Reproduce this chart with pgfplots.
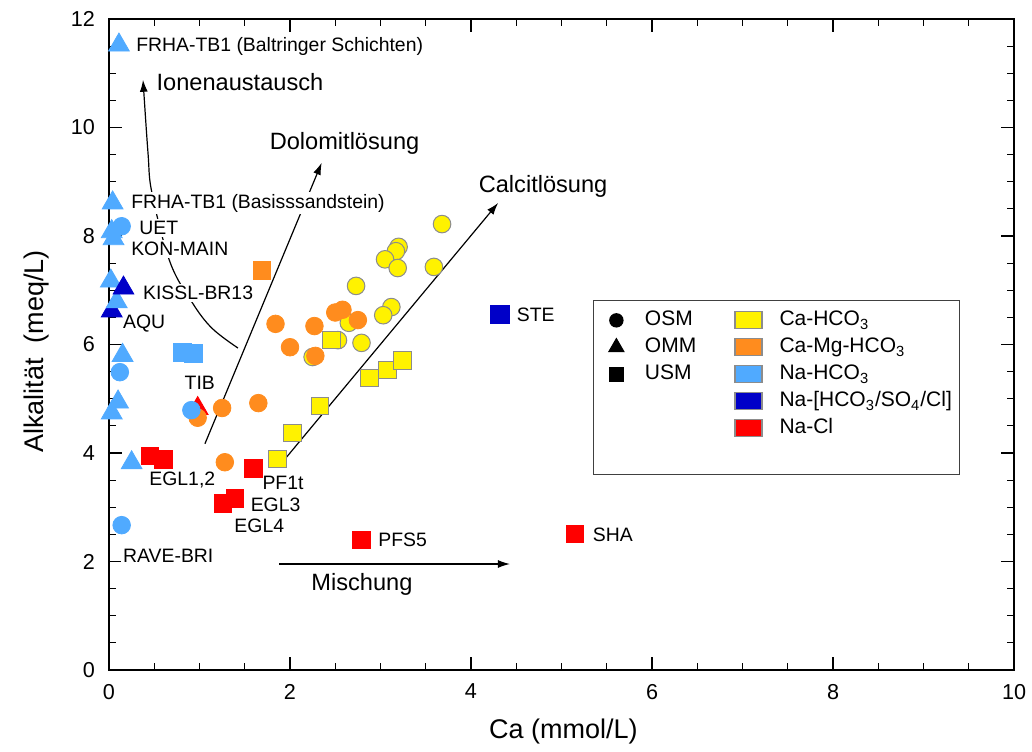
\documentclass[border=0pt]{standalone}
\usepackage{fontspec}
\setmainfont{Liberation Sans}
\usepackage{pgfplots}
\pgfplotsset{compat=1.18}
\usetikzlibrary{arrows.meta,calc}

\definecolor{cyel}{RGB}{255,242,0}
\definecolor{corg}{RGB}{255,140,30}
\definecolor{clbl}{RGB}{80,170,255}
\definecolor{cdbl}{RGB}{0,0,200}
\definecolor{cred}{RGB}{255,0,0}
\definecolor{cedge}{RGB}{140,140,140}

\pgfplotsset{
 patchleg/.style={legend image code/.code={\draw[##1] (0pt,-4.25pt) rectangle (13.5pt,4.25pt);}},
 markleg/.style={legend image code/.code={\path (0pt,0pt) (12.5pt,0pt); \draw[##1, only marks] plot coordinates {(7pt,0pt)};}},
}

\begin{document}
\begin{tikzpicture}
\begin{axis}[
 name=ax,
 scale only axis, width=452.5pt, height=325.5pt,
 xmin=0, xmax=10, ymin=0, ymax=12,
 xtick={0,2,...,10}, ytick={0,2,...,12},
 minor x tick num=3, minor y tick num=3,
 tick align=inside, tick pos=both,
 xticklabel pos=lower, yticklabel pos=left,
 major tick length=6.5pt, minor tick length=3.5pt,
 tick style={black, line width=0.6pt},
 axis line style={line width=0.8pt},
 ticklabel style={font=\fontsize{10.8}{12}\selectfont},
 xticklabel style={yshift=-3.5pt},
 yticklabel style={xshift=-3.5pt},
 /pgf/number format/assume math mode=true,
 xlabel={Ca (mmol/L)}, ylabel={Alkalität\ \ (meq/L)},
 label style={font=\fontsize{13.5}{16}\selectfont},
 xlabel style={at={(axis description cs:0.502,-0.095)}, anchor=center},
 ylabel style={at={(axis description cs:-0.0796,0.489)}, anchor=center},
 legend columns=2,
 legend cell align=left,
 legend style={at={(rel axis cs:0.535,0.568)}, anchor=north west,
   draw=black!75, line width=0.6pt, fill=white,
   font=\fontsize{10.5}{12}\selectfont,
   inner xsep=4pt, inner ysep=3pt, row sep=0pt,
   nodes={text height=7.5pt, text depth=2pt, inner ysep=2pt, inner xsep=0pt},
   /tikz/every odd column/.append style={column sep=8.5pt},
   /tikz/every even column/.append style={column sep=19pt}},
]
% Na-Cl triangle OMM (TIB), partly hidden
\addplot[forget plot, only marks, mark=triangle*, mark size=6pt, mark options={fill=cred, draw=cred}] coordinates {
(0.98,4.82)};
% Ca-HCO3 (yellow) circles OSM
\addplot[forget plot, only marks, mark=*, mark size=4.4pt, mark options={fill=cyel, draw=cedge, line width=0.5pt}] coordinates {
(3.68,8.22) (3.20,7.80) (3.17,7.72) (3.05,7.57) (3.19,7.41) (3.59,7.43) (2.73,7.08)
(3.12,6.69) (3.03,6.54) (2.65,6.40) (2.53,6.08) (2.79,6.03) (2.25,5.77)};
% Ca-HCO3 squares USM
\addplot[forget plot, only marks, mark=square*, mark size=4.4pt, mark options={fill=cyel, draw=cedge, line width=0.5pt}] coordinates {
(2.46,6.08) (2.88,5.38) (3.08,5.53) (3.24,5.70) (2.33,4.87) (2.03,4.37) (1.86,3.89)};
% Ca-Mg-HCO3 circles OSM
\addplot[forget plot, only marks, mark=*, mark size=4.4pt, mark options={fill=corg, draw=corg}] coordinates {
(1.84,6.38) (2.00,5.95) (2.27,6.34) (2.28,5.79) (2.50,6.59) (2.58,6.64) (2.75,6.45)
(1.25,4.83) (1.65,4.92) (1.28,3.83) (0.98,4.65)};
% Ca-Mg-HCO3 square USM
\addplot[forget plot, only marks, mark=square*, mark size=4.4pt, mark options={fill=corg, draw=corg}] coordinates {
(1.69,7.37)};
% Na-mix triangle OMM (AQU)
\addplot[forget plot, only marks, mark=triangle*, mark size=6pt, mark options={fill=cdbl, draw=cdbl}] coordinates {
(0.03,6.62)};
% Na-HCO3 triangles OMM
\addplot[forget plot, only marks, mark=triangle*, mark size=6pt, mark options={fill=clbl, draw=clbl}] coordinates {
(0.11,11.52) (0.04,8.61) (0.03,8.08) (0.05,7.95) (0.02,7.17) (0.085,6.79)
(0.15,5.80) (0.10,4.94) (0.03,4.74) (0.25,3.82)};
% Na-mix triangle OMM (KISSL)
\addplot[forget plot, only marks, mark=triangle*, mark size=6pt, mark options={fill=cdbl, draw=cdbl}] coordinates {
(0.16,7.04)};
% Na-HCO3 circles OSM
\addplot[forget plot, only marks, mark=*, mark size=4.4pt, mark options={fill=clbl, draw=clbl}] coordinates {
(0.14,8.18) (0.12,5.49) (0.91,4.79) (0.14,2.67)};
% Na-HCO3 squares USM
\addplot[forget plot, only marks, mark=square*, mark size=4.4pt, mark options={fill=clbl, draw=clbl}] coordinates {
(0.81,5.86) (0.93,5.84)};
% Na-mix square USM (STE)
\addplot[forget plot, only marks, mark=square*, mark size=4.6pt, mark options={fill=cdbl, draw=cdbl}] coordinates {
(4.32,6.55)};
% Na-Cl squares USM
\addplot[forget plot, only marks, mark=square*, mark size=4.4pt, mark options={fill=cred, draw=cred}] coordinates {
(0.45,3.95) (0.60,3.88) (1.595,3.72) (1.39,3.16) (1.26,3.07) (2.79,2.40) (5.15,2.51)};

% arrows
\draw[line width=0.6pt, -{Latex[length=6pt,width=4pt]}] plot[smooth, tension=0.6] coordinates {
 (axis cs:1.425,5.935) (axis cs:1.138,6.30) (axis cs:0.917,6.78) (axis cs:0.674,7.52)
 (axis cs:0.475,8.79) (axis cs:0.431,9.53) (axis cs:0.376,10.88)};
\draw[line width=0.6pt, -{Latex[length=6pt,width=4pt]}] (axis cs:1.06,4.17) -- (axis cs:2.35,9.35);
\draw[line width=0.6pt, -{Latex[length=6pt,width=4pt]}] (axis cs:1.945,3.89) -- (axis cs:4.30,8.61);
\draw[line width=0.6pt, -{Latex[length=6pt,width=4pt]}] (axis cs:1.88,1.954) -- (axis cs:4.43,1.954);

% process labels
\tikzset{big/.style={font=\fontsize{11.8}{14}\selectfont, anchor=west, inner sep=1pt},
         lbl/.style={font=\fontsize{9.7}{11}\selectfont, anchor=west, inner sep=1pt, fill=white}}
\node[big] at (axis cs:0.50,10.84) {Ionenaustausch};
\node[big] at (axis cs:1.75,9.71) {Dolomitlösung};
\node[big] at (axis cs:4.06,8.92) {Calcitlösung};
\node[big] at (axis cs:2.21,1.57) {Mischung};

% site labels
\node[lbl] at (axis cs:0.275,11.5) {FRHA-TB1 (Baltringer Schichten)};
\node[lbl] at (axis cs:0.22,8.6) {FRHA-TB1 (Basisssandstein)};
\node[lbl] at (axis cs:0.31,8.15) {UET};
\node[lbl] at (axis cs:0.22,7.76) {KON-MAIN};
\node[lbl] at (axis cs:0.35,6.95) {KISSL-BR13};
\node[lbl] at (axis cs:0.13,6.38) {AQU};
\node[lbl] at (axis cs:0.81,5.29) {TIB};
\node[lbl] at (axis cs:0.42,3.50) {EGL1,2};
\node[lbl] at (axis cs:1.67,3.45) {PF1t};
\node[lbl] at (axis cs:1.54,3.04) {EGL3};
\node[lbl] at (axis cs:1.36,2.65) {EGL4};
\node[lbl] at (axis cs:0.13,2.10) {RAVE-BRI};
\node[lbl] at (axis cs:2.95,2.40) {PFS5};
\node[lbl] at (axis cs:5.32,2.49) {SHA};
\node[lbl] at (axis cs:4.48,6.54) {STE};

% legend
\addlegendimage{mark=*, black, mark size=3.3pt, markleg}
\addlegendentry{OSM}
\addlegendimage{patchleg, fill=cyel, draw=cedge}
\addlegendentry{Ca-HCO\textsubscript{3}}
\addlegendimage{mark=triangle*, black, mark size=4.3pt, markleg}
\addlegendentry{OMM}
\addlegendimage{patchleg, fill=corg, draw=cedge}
\addlegendentry{Ca-Mg-HCO\textsubscript{3}}
\addlegendimage{mark=square*, black, mark size=3.3pt, markleg}
\addlegendentry{USM}
\addlegendimage{patchleg, fill=clbl, draw=cedge}
\addlegendentry{Na-HCO\textsubscript{3}}
\addlegendimage{empty legend}
\addlegendentry{}
\addlegendimage{patchleg, fill=cdbl, draw=cedge}
\addlegendentry{Na-[HCO\textsubscript{3}/SO\textsubscript{4}/Cl]}
\addlegendimage{empty legend}
\addlegendentry{}
\addlegendimage{patchleg, fill=cred, draw=cedge}
\addlegendentry{Na-Cl}
\addlegendimage{empty legend}
\addlegendentry{}
\addlegendimage{empty legend}
\addlegendentry{}
\end{axis}
\pgfresetboundingbox
\path[use as bounding box] ($(ax.south west)+(-54.5pt,-40.5pt)$) rectangle ($(ax.north east)+(9pt,9.5pt)$);
\end{tikzpicture}
\end{document}
